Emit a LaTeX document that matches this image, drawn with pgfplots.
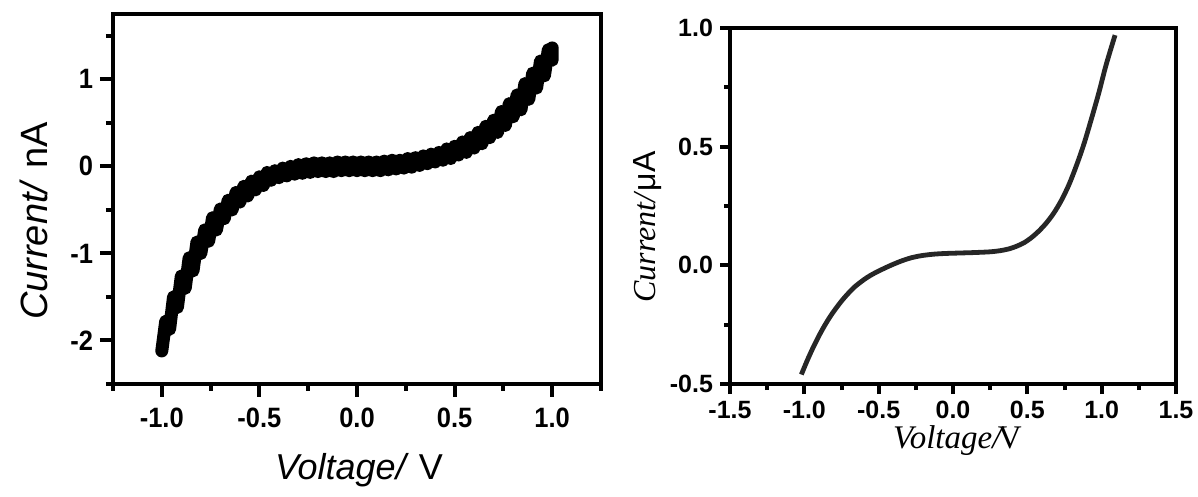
\documentclass[border=0pt]{standalone}
\usepackage{pgfplots}
\pgfplotsset{compat=1.18}
\usepackage{fontspec}
\setmainfont{Liberation Sans}
\setsansfont{Liberation Sans}
\newfontfamily\timesfont{Liberation Serif}
\newfontfamily\tallsans[FakeStretch=0.91]{Liberation Sans}

\pgfplotsset{
  ivframe/.style={
    scale only axis,
    axis line style={line width=2.4pt},
    tick style={line width=2pt, black},
    tick align=outside,
    xtick pos=bottom,
    ytick pos=left,
    /pgf/number format/assume math mode=true,
  },
}

\begin{document}
\begin{tikzpicture}
\useasboundingbox (-56.5pt,-56.5pt) rectangle (542.5pt,192pt);

% left panel: measured I-V, nA
\begin{axis}[ivframe,
  at={(0pt,0pt)}, anchor=south west,
  width=244pt, height=185pt,
  xmin=-1.25, xmax=1.25, ymin=-2.5, ymax=1.75,
  xtick={-1,-0.5,0,0.5,1},
  minor xtick={-1.25,-0.75,-0.25,0.25,0.75,1.25},
  ytick={-2,-1,0,1},
  minor ytick={-2.5,-1.5,-0.5,0.5,1.5},
  major tick length=6.5pt, minor tick length=3.5pt,
  xticklabel style={yshift=-2pt,/pgf/number format/.cd,fixed,fixed zerofill,precision=1},
  ticklabel style={font=\tallsans\fontsize{14}{16}\selectfont\bfseries},
  xlabel={\textit{Voltage/} V},
  ylabel={\textit{Current/} nA},
  xlabel style={font=\fontsize{18}{21}\selectfont, at={(axis description cs:0.504,-0.257)}, anchor=base},
  ylabel style={font=\fontsize{19}{22}\selectfont, at={(axis description cs:-0.135,0.44)}, anchor=base},
]
\addplot[black, line width=6.5pt, line join=round, line cap=round] coordinates {
(-1.00,-2.12) (-0.98,-1.78) (-0.96,-1.87) (-0.94,-1.50) (-0.92,-1.62)
(-0.90,-1.26) (-0.88,-1.40) (-0.86,-1.05) (-0.84,-1.20) (-0.82,-0.87)
(-0.80,-1.00) (-0.78,-0.73) (-0.76,-0.86) (-0.74,-0.59) (-0.72,-0.73)
(-0.70,-0.49) (-0.68,-0.60) (-0.66,-0.39) (-0.64,-0.50) (-0.62,-0.30)
(-0.60,-0.41) (-0.58,-0.23) (-0.56,-0.34) (-0.54,-0.17) (-0.52,-0.27)
(-0.50,-0.12) (-0.48,-0.22) (-0.46,-0.07) (-0.44,-0.16) (-0.42,-0.05)
(-0.40,-0.13) (-0.38,-0.02) (-0.36,-0.11) (-0.34,0.00) (-0.32,-0.09)
(-0.30,0.02) (-0.28,-0.08) (-0.26,0.03) (-0.24,-0.07) (-0.22,0.04)
(-0.20,-0.06) (-0.18,0.04) (-0.16,-0.06) (-0.14,0.04) (-0.12,-0.06)
(-0.10,0.05) (-0.08,-0.05) (-0.06,0.05) (-0.04,-0.05) (-0.02,0.05)
(0.00,-0.05) (0.02,0.05) (0.04,-0.05) (0.06,0.05) (0.08,-0.05)
(0.10,0.05) (0.12,-0.05) (0.14,0.06) (0.16,-0.04) (0.18,0.07)
(0.20,-0.03) (0.22,0.07) (0.24,-0.02) (0.26,0.09) (0.28,-0.01)
(0.30,0.10) (0.32,0.01) (0.34,0.12) (0.36,0.03) (0.38,0.14)
(0.40,0.05) (0.42,0.16) (0.44,0.07) (0.46,0.20) (0.48,0.09)
(0.50,0.23) (0.52,0.13) (0.54,0.28) (0.56,0.16) (0.58,0.33)
(0.60,0.21) (0.62,0.39) (0.64,0.26) (0.66,0.46) (0.68,0.33)
(0.70,0.53) (0.72,0.39) (0.74,0.63) (0.76,0.47) (0.78,0.72)
(0.80,0.57) (0.82,0.82) (0.84,0.65) (0.86,0.95) (0.88,0.77)
(0.90,1.07) (0.92,0.90) (0.94,1.21) (0.96,1.04) (0.98,1.34)
(1.00,1.22) (1.00,1.36)
};
\end{axis}

% right panel: I-V, microamps
\begin{axis}[ivframe,
  at={(308.5pt,0pt)}, anchor=south west,
  width=223pt, height=178pt,
  xmin=-1.5, xmax=1.5, ymin=-0.5, ymax=1.0,
  xtick={-1.5,-1,...,1.5}, minor x tick num=1,
  ytick={-0.5,0,0.5,1}, minor y tick num=1,
  major tick length=5pt, minor tick length=3pt,
  ticklabel style={font=\fontsize{12.5}{14}\selectfont\bfseries,
    /pgf/number format/.cd,fixed,fixed zerofill,precision=1},
  xlabel={\textit{Voltage/}\kern-3pt V},
  ylabel={\textit{Current/}{\sffamily\upshape μA}},
  xlabel style={font=\timesfont\fontsize{16.5}{19}\selectfont, at={(axis description cs:0.51,-0.182)}, anchor=base},
  ylabel style={font=\timesfont\fontsize{16}{19}\selectfont, at={(axis description cs:-0.168,0.441)}, anchor=base},
]
\addplot[black!85, line width=2.4pt, smooth] coordinates {
(-1.02,-0.46) (-0.98,-0.40) (-0.94,-0.345) (-0.90,-0.295) (-0.86,-0.25)
(-0.82,-0.21) (-0.78,-0.175) (-0.74,-0.143) (-0.70,-0.115) (-0.66,-0.09)
(-0.62,-0.07) (-0.58,-0.052) (-0.54,-0.037) (-0.50,-0.024) (-0.45,-0.009)
(-0.40,0.005) (-0.34,0.020) (-0.28,0.032) (-0.21,0.041) (-0.13,0.047)
(-0.05,0.050) (0.05,0.052) (0.15,0.054) (0.25,0.057) (0.32,0.062)
(0.38,0.070) (0.43,0.081) (0.48,0.096) (0.53,0.118) (0.58,0.146)
(0.63,0.180) (0.68,0.222) (0.73,0.275) (0.78,0.340) (0.83,0.420)
(0.88,0.510) (0.93,0.615) (0.98,0.725) (1.03,0.845) (1.09,0.97)
};
\end{axis}
\end{tikzpicture}
\end{document}
